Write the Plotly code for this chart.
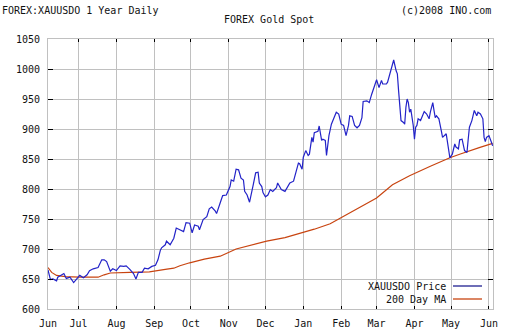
import pandas as pd
import plotly.graph_objects as go

# ---- data (day offsets from 2007-06-06) ----
start_date = "2007-06-06"

price_day = [0, 2, 4, 7, 8, 11, 13, 15, 18, 21, 23, 26, 29, 32, 34, 37, 41, 44, 46, 48,
             51, 53, 56, 59, 62, 64, 67, 70, 72, 74, 77, 79, 82, 85, 88, 90, 92, 93, 96, 97,
             100, 103, 105, 108, 111, 113, 116, 118, 120, 123, 124, 127, 130, 132, 134, 137, 138, 141, 143, 146,
             148, 149, 150, 152, 154, 156, 158, 160, 161, 163, 165, 167, 168, 170, 172, 173, 175, 176, 178, 180,
             182, 184, 187, 188, 191, 194, 196, 198, 201, 203, 205, 206, 208, 209, 211, 213, 214, 216, 217, 218,
             221, 222, 224, 225, 227, 228, 230, 232, 234, 236, 238, 240, 242, 244, 246, 247, 249, 251, 253, 255,
             257, 258, 261, 263, 265, 267, 268, 269, 271, 273, 274, 277, 278, 280, 281, 282, 283, 285, 286, 287,
             288, 289, 291, 292, 293, 294, 295, 296, 297, 299, 300, 301, 302, 303, 305, 306, 308, 310, 312, 313,
             315, 316, 317, 318, 320, 322, 323, 326, 327, 328, 329, 331, 332, 333, 334, 336, 337, 339, 341, 343,
             344, 345, 347, 349, 351, 352, 354, 356, 357, 358, 359, 361, 363, 364]
price_val = [665, 649, 650, 647, 653, 656, 659, 651, 653, 644, 649, 656, 652, 657, 664, 667, 669, 682, 682, 679,
             663, 667, 664, 672, 671, 672, 666, 659, 650, 661, 661, 668, 667, 671, 673, 682, 698, 702, 707, 713,
             707, 718, 735, 732, 729, 744, 743, 727, 740, 738, 732, 749, 754, 767, 770, 763, 759, 777, 789, 790,
             799, 804, 815, 813, 833, 832, 818, 815, 796, 790, 778, 802, 807, 827, 828, 810, 804, 794, 787, 790,
             799, 796, 802, 810, 799, 796, 802, 810, 813, 827, 843, 842, 833, 853, 864, 856, 858, 886, 878, 894,
             896, 905, 881, 883, 881, 856, 889, 908, 919, 928, 925, 908, 906, 889, 906, 922, 921, 906, 902, 906,
             919, 946, 947, 944, 958, 969, 978, 982, 969, 981, 975, 975, 978, 992, 1000, 1008, 1015, 997, 992, 964,
             928, 914, 911, 908, 936, 950, 944, 928, 933, 906, 883, 903, 906, 917, 914, 919, 929, 925, 917, 928,
             944, 931, 919, 922, 917, 897, 886, 892, 878, 864, 852, 858, 869, 875, 870, 867, 882, 883, 864, 861,
             883, 903, 914, 931, 922, 928, 925, 917, 886, 879, 886, 889, 878, 872]

ma_day = [0, 3, 7, 14, 26, 41, 46, 51, 67, 83, 96, 103, 108, 116, 128, 141, 154, 165, 179, 194,
          209, 218, 231, 240, 254, 269, 282, 296, 313, 323, 329, 337, 345, 353, 364]
ma_val = [669, 661, 656, 654, 653, 653, 657, 660, 661, 662, 666, 668, 672, 677, 683, 688, 700, 706, 713, 719,
          727, 733, 742, 752, 768, 785, 807, 822, 838, 847, 852, 858, 864, 869, 876]

month_tick_dates = ["2007-06-06", "2007-07-01", "2007-08-01", "2007-09-01", "2007-10-01", "2007-11-01",
                    "2007-12-01", "2008-01-01", "2008-02-01", "2008-03-01", "2008-04-01", "2008-05-01",
                    "2008-06-01"]
month_tick_text = ["Jun", "Jul", "Aug", "Sep", "Oct", "Nov", "Dec", "Jan", "Feb", "Mar", "Apr", "May", "Jun"]
y_ticks = [600, 650, 700, 750, 800, 850, 900, 950, 1000, 1050]

series_names = ["XAUUSDO Price", "200 Day MA"]
title_left = "FOREX:XAUUSDO 1 Year Daily"
title_right = "(c)2008 INO.com"
title_center = "FOREX Gold Spot"

# ---- build ----
t0 = pd.Timestamp(start_date)
price_x = [t0 + pd.Timedelta(days=d) for d in price_day]
ma_x = [t0 + pd.Timedelta(days=d) for d in ma_day]
x_end = t0 + pd.Timedelta(days=364.3)

BLUE = "#2323c8"
ORANGE = "#c84410"
GRID = "#c0c0c0"
FONT = "DejaVu Sans Mono"

fig = go.Figure()
fig.add_trace(go.Scatter(x=ma_x, y=ma_val, mode="lines", name=series_names[1],
                         line=dict(color=ORANGE, width=1.2), showlegend=False))
fig.add_trace(go.Scatter(x=price_x, y=price_val, mode="lines", name=series_names[0],
                         line=dict(color=BLUE, width=1.2), showlegend=False))

fig.update_layout(
    width=512, height=336,
    margin=dict(l=48, r=19, t=39, b=27, autoexpand=False),
    paper_bgcolor="white", plot_bgcolor="white",
    font=dict(family=FONT, size=10, color="#111111"),
    showlegend=False,
)
fig.update_xaxes(
    type="date", range=[t0, x_end], automargin=False,
    tickvals=[pd.Timestamp(d) for d in month_tick_dates], ticktext=month_tick_text,
    showgrid=True, gridcolor=GRID, gridwidth=1,
    showline=True, linecolor=GRID, linewidth=1, mirror="ticks",
    ticks="inside", ticklen=3, tickcolor="#000000", tickwidth=1,
    tickfont=dict(family=FONT, size=10, color="#111111"),
    zeroline=False, ticklabelstandoff=5,
)
fig.update_yaxes(
    range=[600, 1050], automargin=False, tickvals=y_ticks, ticktext=[str(v) for v in y_ticks],
    showgrid=True, gridcolor=GRID, gridwidth=1,
    showline=True, linecolor=GRID, linewidth=1, mirror="ticks",
    ticks="inside", ticklen=5, tickcolor="#000000", tickwidth=1,
    tickfont=dict(family=FONT, size=10, color="#111111"),
    zeroline=False, ticklabelstandoff=5,
)

PW, PH, L, T = 445.0, 270.0, 48.0, 39.0
def px(x):
    return (x - L) / PW
def py(y):
    return 1 - (y - T) / PH

ann = [
    dict(text=title_left, x=px(0), y=py(10.5), xanchor="left", yanchor="middle"),
    dict(text=title_right, x=px(493), y=py(10.5), xanchor="right", yanchor="middle"),
    dict(text=title_center, x=px(269), y=py(19.5), xanchor="center", yanchor="middle"),
    dict(text=series_names[0], x=px(448), y=py(286), xanchor="right", yanchor="middle"),
    dict(text=series_names[1], x=px(448), y=py(299), xanchor="right", yanchor="middle"),
]
for a in ann:
    a.update(xref="paper", yref="paper", showarrow=False,
             font=dict(family=FONT, size=10, color="#111111"))
fig.update_layout(annotations=ann)

fig.update_layout(shapes=[
    dict(type="rect", xref="paper", yref="paper", x0=px(362), x1=px(487), y0=py(305.5), y1=py(280.3),
         fillcolor="white", line=dict(width=0), layer="between"),
    dict(type="line", xref="paper", yref="paper", x0=px(453), x1=px(482), y0=py(286), y1=py(286),
         line=dict(color="#202090", width=1.3)),
    dict(type="line", xref="paper", yref="paper", x0=px(453), x1=px(482), y0=py(299), y1=py(299),
         line=dict(color=ORANGE, width=1.3)),
])

fig.write_html("out.html")
